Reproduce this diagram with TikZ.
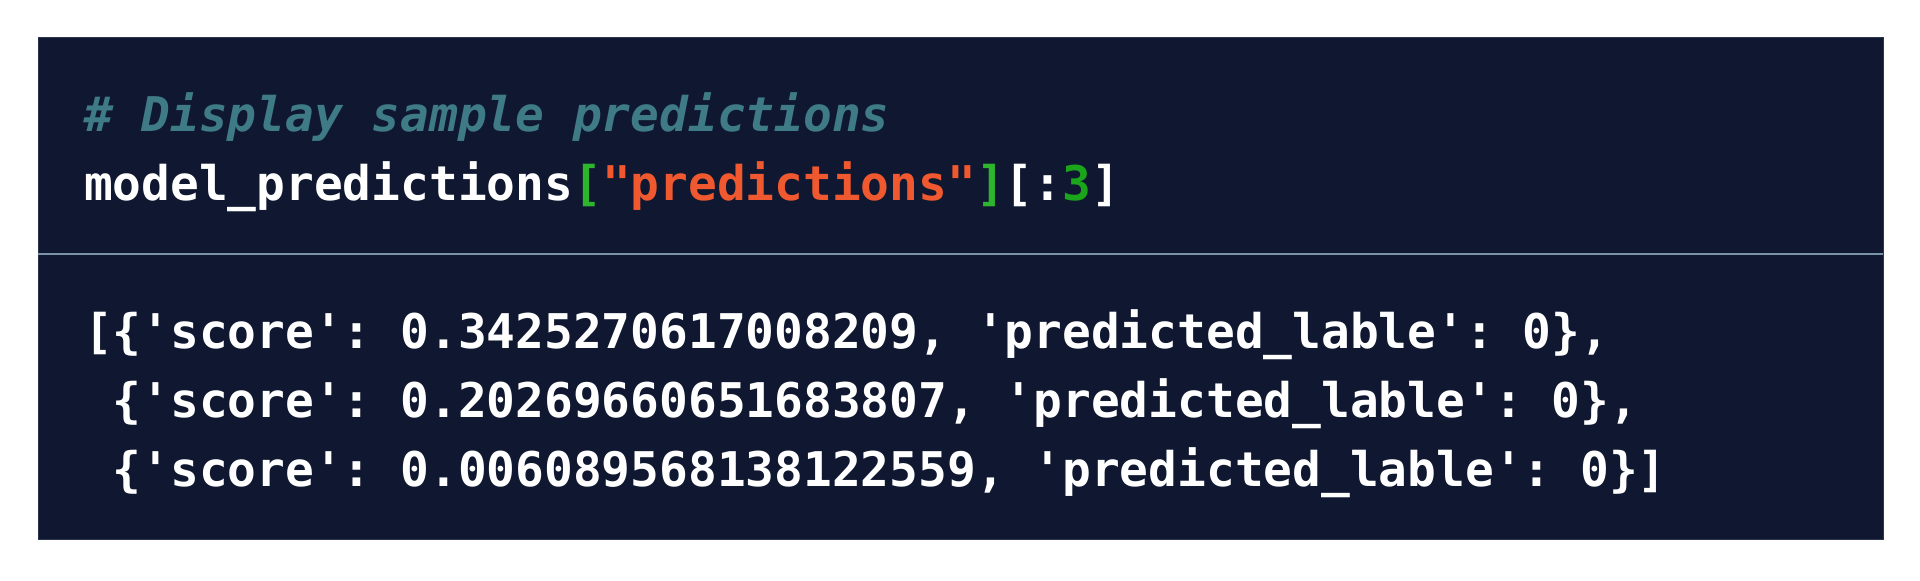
\documentclass[tikz,border=0pt]{standalone}
\usepackage{fontspec}
\newfontfamily\codefont{DejaVu Sans Mono}
\definecolor{bgnavy}{HTML}{0F1830}
\definecolor{cmtcol}{HTML}{3F7B86}
\definecolor{strcol}{HTML}{F0592F}
\definecolor{brkcol}{HTML}{2DB52D}
\definecolor{numcol}{HTML}{1AA51A}
\definecolor{sepcol}{HTML}{7A93A5}
\definecolor{edgecol}{HTML}{2A3550}
\tikzset{
  codeline/.style={anchor=base west, inner sep=0pt, outer sep=0pt, text=white,
    font=\codefont\bfseries\fontsize{23.9pt}{34pt}\selectfont},
  cmtline/.style={codeline, text=cmtcol, font=\codefont\bfseries\itshape\fontsize{23.9pt}{34pt}\selectfont}
}
\begin{document}
\begin{tikzpicture}[x=0.5pt,y=-0.5pt]
\useasboundingbox (0,0) rectangle (1920,581);
\fill[white] (0,0) rectangle (1920,581);
\filldraw[fill=bgnavy, draw=edgecol, line width=0.5pt] (38,38) rectangle (1883,540);
\draw[sepcol, line width=1.2pt] (38,254) -- (1883,254);
\node[cmtline] (cmt) at (84,132) {\#~Display~sample~predictions};
\node[codeline] (code) at (84,201) {model\_predictions\textcolor{brkcol}{[}\textcolor{strcol}{"predictions"}\textcolor{brkcol}{]}[:\textcolor{numcol}{3}]};
\node[codeline] (out1) at (84,349) {[\{'score':~0.3425270617008209,~'predicted\_lable':~0\},};
\node[codeline] (out2) at (84,418) {\phantom{[}\{'score':~0.20269660651683807,~'predicted\_lable':~0\},};
\node[codeline] (out3) at (84,487) {\phantom{[}\{'score':~0.006089568138122559,~'predicted\_lable':~0\}]};
\end{tikzpicture}
\end{document}
